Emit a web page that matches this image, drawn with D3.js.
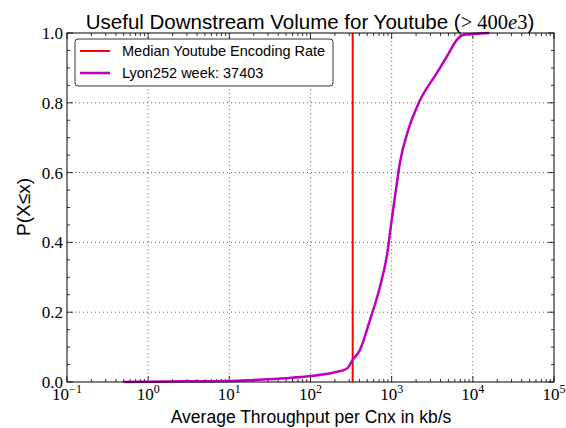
<!DOCTYPE html>
<html><head><meta charset="utf-8">
<script src="https://cdn.jsdelivr.net/npm/d3@7"></script>
<style>body{margin:0;background:#fff}</style>
</head><body>
<svg id="c" width="566" height="428"></svg>
<script>
const throughput = [0.5, 1, 3, 10, 20, 50, 100, 200, 280, 330, 407, 541, 718, 883, 1000, 1099, 1260, 1600, 2190, 3590, 4770, 6610, 7600, 10000, 16000];
const cdf        = [0.0, 0.001, 0.002, 0.003, 0.006, 0.011, 0.017, 0.028, 0.038, 0.063, 0.092, 0.178, 0.273, 0.369, 0.464, 0.531, 0.627, 0.722, 0.803, 0.885, 0.932, 0.985, 0.994, 0.997, 1.0];
const medianRate = 331;
const xTicks = [-1, 0, 1, 2, 3, 4, 5];
const yTicks = [0, 0.2, 0.4, 0.6, 0.8, 1.0];
const legendLabels = ["Median Youtube Encoding Rate", "Lyon252 week: 37403"];

const svg = d3.select("#c");
const L = 67, R = 554, T = 33, B = 382;
const x = d3.scaleLog().domain([0.1, 1e5]).range([L, R]);
const y = d3.scaleLinear().domain([0, 1]).range([B, T]);
const serif = "'Liberation Serif', 'DejaVu Serif', serif";
const sans = "'Liberation Sans', Arial, sans-serif";

// grid
const g = svg.append("g");
xTicks.slice(1, -1).forEach(e => {
  g.append("line").attr("x1", x(10**e)).attr("x2", x(10**e)).attr("y1", T).attr("y2", B)
   .attr("stroke", "#000").attr("stroke-width", 0.6).attr("stroke-dasharray", "1,3");
});
yTicks.slice(1, -1).forEach(v => {
  g.append("line").attr("x1", L).attr("x2", R).attr("y1", y(v)).attr("y2", y(v))
   .attr("stroke", "#000").attr("stroke-width", 0.6).attr("stroke-dasharray", "1,3");
});

// ticks (inward, all sides)
const minorX = [];
for (let e = -1; e < 5; e++) for (let m = 2; m < 10; m++) minorX.push(m * 10**e);
const tk = svg.append("g").attr("stroke", "#000").attr("stroke-width", 0.8);
xTicks.forEach(e => {
  const px = x(10**e);
  tk.append("line").attr("x1", px).attr("x2", px).attr("y1", B).attr("y2", B - 6);
  tk.append("line").attr("x1", px).attr("x2", px).attr("y1", T).attr("y2", T + 6);
});
minorX.forEach(v => {
  const px = x(v);
  tk.append("line").attr("x1", px).attr("x2", px).attr("y1", B).attr("y2", B - 3);
  tk.append("line").attr("x1", px).attr("x2", px).attr("y1", T).attr("y2", T + 3);
});
d3.range(0, 1.001, 0.05).forEach((v, i) => {
  const len = (i % 4 === 0) ? 6 : 3;
  tk.append("line").attr("x1", L).attr("x2", L + len).attr("y1", y(v)).attr("y2", y(v));
  tk.append("line").attr("x1", R).attr("x2", R - len).attr("y1", y(v)).attr("y2", y(v));
});

// red median line
svg.append("line").attr("x1", x(medianRate)).attr("x2", x(medianRate)).attr("y1", T).attr("y2", B)
  .attr("stroke", "#ff0000").attr("stroke-width", 2);

// cdf line
svg.append("path").datum(throughput.map((t, i) => [t, cdf[i]]))
  .attr("d", d3.line().x(d => x(d[0])).y(d => y(d[1])).curve(d3.curveMonotoneX))
  .attr("fill", "none").attr("stroke", "#bf00bf").attr("stroke-width", 2.5).attr("stroke-linejoin", "round");

// frame
svg.append("rect").attr("x", L).attr("y", T).attr("width", R - L).attr("height", B - T)
  .attr("fill", "none").attr("stroke", "#000").attr("stroke-width", 1);

// x tick labels
xTicks.forEach(e => {
  const t = svg.append("text").attr("x", x(10**e)).attr("y", B + 18).attr("text-anchor", "middle")
    .attr("font-family", serif).attr("font-size", 17).attr("fill", "#000");
  t.append("tspan").text("10");
  t.append("tspan").attr("dy", -7).attr("font-size", 12).text(e < 0 ? "\u2212" + Math.abs(e) : e);
});
// y tick labels
yTicks.forEach(v => {
  svg.append("text").attr("x", L - 4).attr("y", y(v) + 6).attr("text-anchor", "end")
    .attr("font-family", serif).attr("font-size", 17).attr("fill", "#000").text(v.toFixed(1));
});

// axis labels
svg.append("text").attr("x", 311).attr("y", 423).attr("text-anchor", "middle")
  .attr("font-family", sans).attr("font-size", 17.5).attr("fill", "#000")
  .text("Average Throughput per Cnx in kb/s");
svg.append("text").attr("transform", "translate(30,207) rotate(-90)").attr("text-anchor", "middle")
  .attr("font-family", sans).attr("font-size", 19).attr("fill", "#000").text("P(X\u2264x)");

// title
const title = svg.append("text").attr("x", 310).attr("y", 29).attr("text-anchor", "middle")
  .attr("font-family", sans).attr("font-size", 20.5).attr("fill", "#000");
title.append("tspan").text("Useful Downstream Volume for Youtube (");
title.append("tspan").attr("font-family", serif).text("> 400");
title.append("tspan").attr("font-family", serif).attr("font-style", "italic").text("e");
title.append("tspan").attr("font-family", serif).text("3");
title.append("tspan").text(")");

// legend
const lg = svg.append("g");
lg.append("rect").attr("x", 75).attr("y", 39).attr("width", 258).attr("height", 47).attr("rx", 3)
  .attr("fill", "#fff").attr("stroke", "#000").attr("stroke-width", 0.8);
const legColors = ["#ff0000", "#bf00bf"];
legendLabels.forEach((lab, i) => {
  const yy = 51 + i * 22;
  lg.append("line").attr("x1", 80).attr("x2", 110).attr("y1", yy).attr("y2", yy)
    .attr("stroke", legColors[i]).attr("stroke-width", i ? 2.5 : 2);
  lg.append("text").attr("x", 122).attr("y", yy + 5).attr("font-family", sans).attr("font-size", 14.5)
    .attr("fill", "#000").text(lab);
});
</script>
</body></html>
